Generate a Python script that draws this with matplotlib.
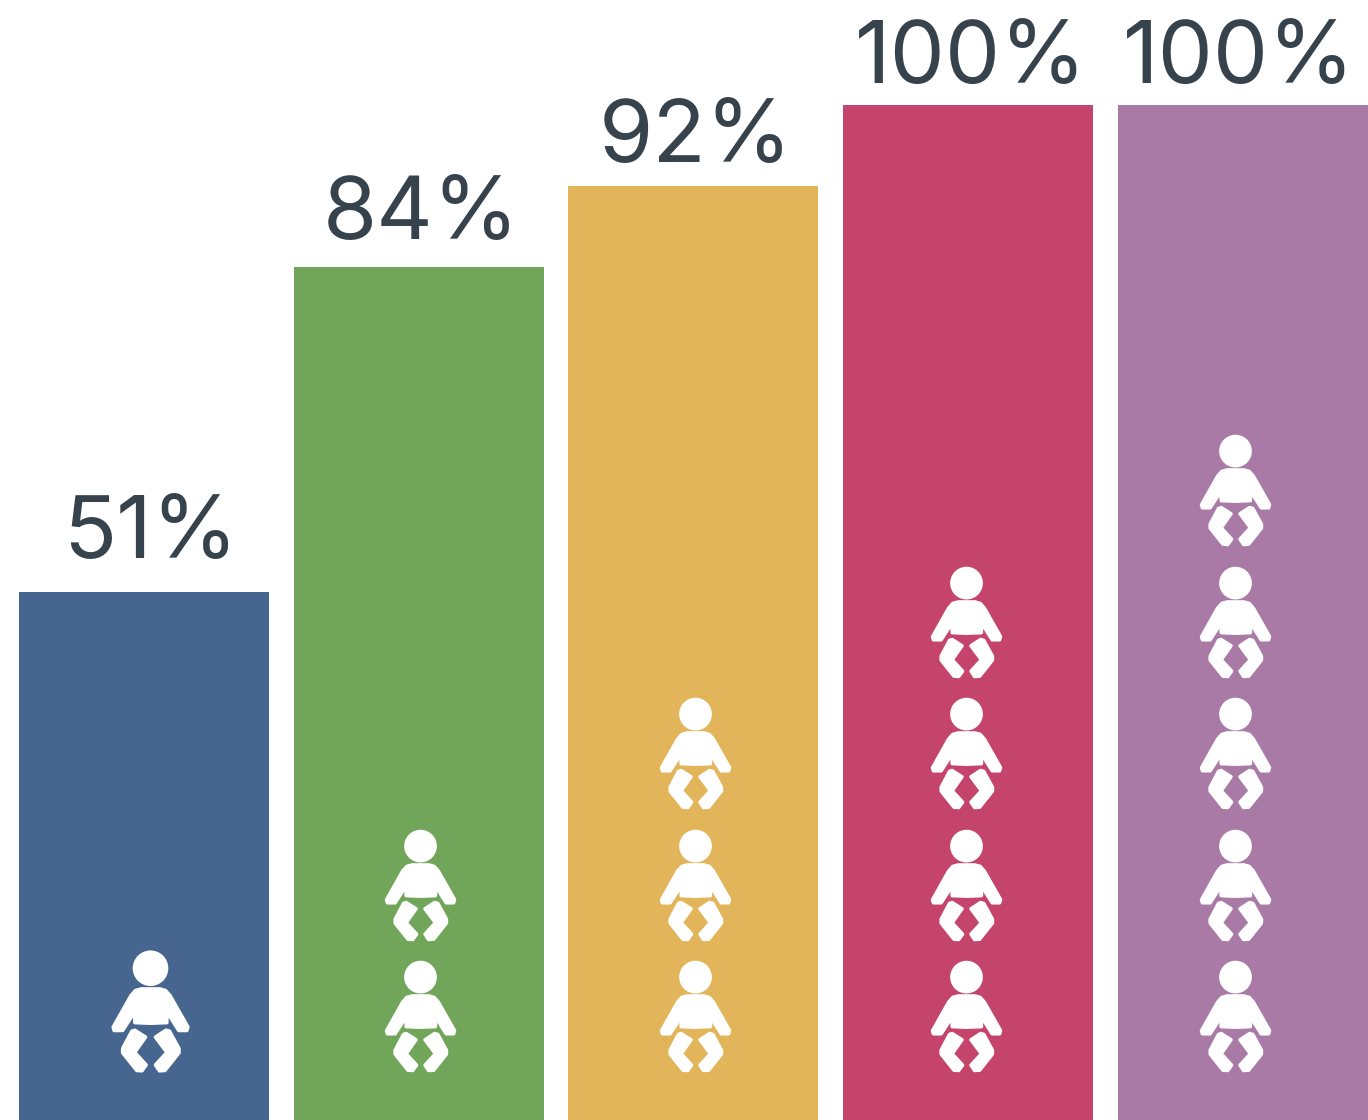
import matplotlib
matplotlib.use('Agg')
from matplotlib import pyplot as plt
from matplotlib.markers import MarkerStyle
from matplotlib.path import Path
import numpy as np

labels = ['51%', '84%', '92%', '100%', '100%']
heights = [52, 84, 92, 100, 100]
icon_counts = [1, 2, 3, 4, 5]
colors = ['#46668f', '#70a55a', '#e3b55a', '#c5446b', '#a97aa6']

text_color = '#36424c'
label_shift = [6, 2, 2.5, 2.5, -4]    # px, sideways from the bar centre
label_gap = [34, 28, 24, 22, 22]      # px, above the bar top
icon_shift = [6, 1.5, 1.5, -2.5, -8]  # px, sideways from the bar centre

plt.rcParams['font.family'] = ['Inter', 'Liberation Sans', 'DejaVu Sans']


# baby icon (y down, flipped below)
def baby_path():
    torso = [(150, 173), (206, 173), (224, 178), (238, 194), (292, 289), (289, 300), (264, 300),
             (228, 243), (228, 276), (178, 278), (130, 276), (130, 243), (93, 300), (67, 300),
             (64, 290), (118, 194), (132, 178)]
    leg_l = [(130, 299), (163, 320), (130, 367), (165, 405), (152, 423), (136, 422),
             (93, 368), (93, 355), (121, 302)]
    leg_r = [(225, 299), (193, 320), (228, 367), (193, 405), (205, 423), (222, 422),
             (265, 368), (265, 355), (236, 302)]
    parts = [Path.circle((178, 110), 49)]
    for pts in (torso, leg_l, leg_r):
        parts.append(Path(pts + [pts[0]], closed=True))
    p = Path.make_compound_path(*parts)
    v = p.vertices.copy()
    v[:, 0] = v[:, 0] - 178
    v[:, 1] = 242 - v[:, 1]
    return Path(v, p.codes)


baby = MarkerStyle(baby_path(), joinstyle='round')

fig = plt.figure(figsize=(13.68, 11.2), dpi=100)
ax = fig.add_axes([0, 0, 1, 1])
ax.axis('off')

px_x = 274.7
px_y = 10.15
x_pos = np.arange(len(heights))
ax.bar(x_pos, heights, width=250 / px_x, color=colors, linewidth=0)
ax.set_xlim(-144 / px_x, (1368 - 144) / px_x)
ax.set_ylim(0, 1120 / px_y)

for i in range(len(heights)):
    ax.annotate(labels[i], (x_pos[i], heights[i]),
                xytext=(label_shift[i] * 0.72, label_gap[i] * 0.72),
                textcoords='offset points', ha='center', va='baseline',
                fontsize=63, color=text_color)

    size = 7300 if i == 0 else 6050
    first = 10.74 if i == 0 else 10.2
    for k in range(icon_counts[i]):
        ax.scatter(x_pos[i] + icon_shift[i] / px_x, first + k * 131.5 / px_y,
                   marker=baby, s=size, facecolors='white', edgecolors='white',
                   linewidths=2.5, zorder=3)

fig.savefig('out.png', dpi=100)
